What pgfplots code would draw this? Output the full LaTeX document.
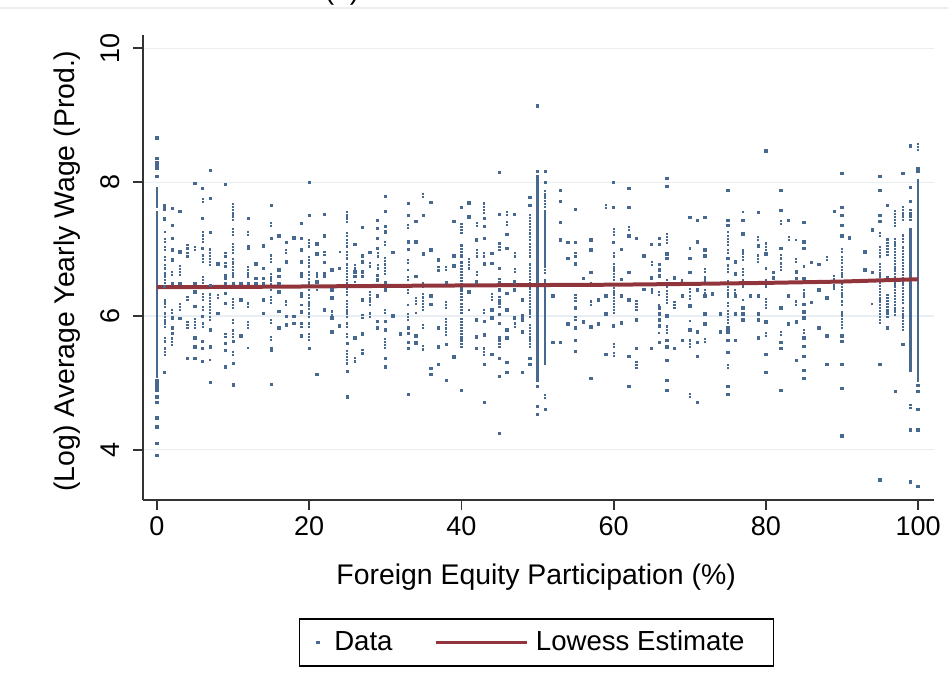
\documentclass[border=0pt]{standalone}
\usepackage{fontspec}
\setmainfont{Liberation Sans}
\usepackage{pgfplots}
\pgfplotsset{compat=1.18}
\definecolor{dotc}{HTML}{48698F}
\definecolor{lowc}{HTML}{90353B}
\definecolor{gridc}{HTML}{E9EEF3}

\begin{document}
\begin{tikzpicture}
\path[use as bounding box] (-71.5pt,-96.5pt) rectangle (402.5pt,250pt);
\draw[color=gridc, line width=0.75pt] (-71.5pt,246pt) -- (402.5pt,246pt);
\node[anchor=base, font=\fontsize{14}{16}\selectfont] at (99.5pt,250.5pt) {(a)};
\begin{axis}[
  scale only axis, width=395.5pt, height=232.5pt,
  xmin=-1.84, xmax=102.1, ymin=3.25, ymax=10.2,
  axis lines=left,
  axis line style={-, line width=0.9pt, color=black!80},
  xtick={0,20,...,100}, ytick={4,6,8,10},
  tick align=outside, major tick length=5pt,
  tick style={line width=0.9pt, color=black!80},
  ymajorgrids, grid style={color=gridc, line width=0.6pt},
  /pgf/number format/assume math mode=true,
  ticklabel style={font=\fontsize{13.5}{16}\selectfont},
  yticklabel style={rotate=90, anchor=south},
  yticklabel shift=3pt,
  xlabel={Foreign Equity Participation (\%)},
  ylabel={(Log) Average Yearly Wage (Prod.)},
  label style={font=\fontsize{14.2}{17}\selectfont},
  xlabel style={at={(axis description cs:0.497,-0.1656)}, anchor=center},
  ylabel style={at={(axis description cs:-0.0961,0.4925)}, anchor=center},
  legend columns=2, legend cell align=left,
  legend style={at={(axis description cs:0.4975,-0.2538)}, anchor=north,
    draw=black, line width=0.8pt, font=\fontsize{13.8}{17}\selectfont,
    inner xsep=8.5pt, inner ysep=4pt,
    /tikz/every even column/.append style={column sep=19pt}},
  runs/.style={draw=none, no markers, forget plot,
    error bars/.cd, y dir=plus, y explicit, error mark=none},
]
% long, solid columns of points (x, low, high)
\addplot[runs, error bar style={draw=dotc, line width=1.3pt, line cap=rect}]
  table[x=x, y=lo, y error expr=\thisrow{hi}-\thisrow{lo}, row sep=\\] {
x lo hi\\
0 7.63 7.91\\ 0 5.09 7.55\\ 50 5.04 7.88\\ 51 6.74 7.56\\ 51 5.29 6.54\\
99 5.19 7.29\\ 100 5.04 8.03\\
};
% shorter runs of points, drawn dotted
\addplot[runs, error bar style={draw=dotc, line width=1.1pt, line cap=rect,
    dash pattern=on 0.01pt off 1.55pt}]
  table[x=x, y=lo, y error expr=\thisrow{hi}-\thisrow{lo}, row sep=\\] {
x lo hi\\
1 7.26 7.30\\ 1 7.11 7.19\\ 1 6.99 7.05\\ 1 6.84 6.91\\ 1 6.71 6.79\\ 1 6.59 6.66\\ 1 6.49 6.54\\ 1 6.14 6.24\\ 1 5.99 6.08\\ 1 5.84 5.97\\ 1 5.62 5.67\\ 1 5.42 5.54\\
2 6.61 6.66\\ 2 6.04 6.09\\ 2 5.57 5.67\\
3 6.61 6.79\\ 3 6.09 6.19\\
4 7.01 7.09\\ 4 6.89 6.94\\ 4 6.24 6.29\\ 4 5.82 5.94\\
5 6.99 7.04\\ 5 5.82 5.97\\
6 7.70 7.77\\ 6 7.11 7.29\\ 6 6.81 6.94\\ 6 6.49 6.61\\ 6 6.24 6.34\\ 6 6.09 6.17\\ 6 5.84 5.92\\
7 6.76 7.01\\ 7 6.04 6.34\\ 7 5.94 5.99\\ 7 5.34 5.37\\
8 6.27 6.34\\
9 6.89 6.94\\ 9 6.74 6.81\\ 9 6.56 6.64\\ 9 5.69 5.77\\ 9 5.59 5.62\\
10 7.44 7.71\\ 10 7.21 7.31\\ 10 6.94 7.11\\ 10 6.81 6.89\\ 10 6.59 6.79\\ 10 6.12 6.27\\ 10 5.89 5.94\\ 10 5.69 5.79\\ 10 5.42 5.49\\
12 7.21 7.29\\ 12 6.59 6.74\\ 12 6.14 6.22\\ 12 5.82 5.92\\ 12 5.52 5.54\\
15 7.34 7.41\\ 15 6.81 6.91\\ 15 6.39 6.66\\ 15 6.19 6.29\\ 15 5.89 5.94\\ 15 5.64 5.69\\
17 6.94 6.99\\ 17 6.17 6.24\\
19 6.59 6.64\\ 19 6.29 6.36\\ 19 6.17 6.21\\ 19 5.84 5.89\\
20 7.04 7.14\\ 20 6.84 6.91\\ 20 6.74 6.79\\ 20 6.61 6.69\\ 20 6.51 6.58\\ 20 6.39 6.49\\ 20 6.27 6.34\\ 20 6.11 6.21\\ 20 5.99 6.04\\ 20 5.84 5.92\\ 20 5.64 5.77\\
21 6.59 6.66\\ 21 6.39 6.44\\
22 6.91 6.96\\ 22 6.59 6.66\\
23 6.02 6.09\\
24 6.96 6.99\\
25 7.41 7.56\\ 25 7.19 7.26\\ 25 7.04 7.14\\ 25 6.86 6.96\\ 25 6.49 6.81\\ 25 6.31 6.46\\ 25 5.99 6.24\\ 25 5.84 5.92\\ 25 5.69 5.77\\ 25 5.29 5.52\\
26 6.71 6.79\\ 26 6.46 6.51\\ 26 5.32 5.39\\
27 5.97 6.04\\ 27 5.44 5.49\\
28 6.74 6.79\\ 28 6.17 6.36\\ 28 5.99 6.07\\
29 6.89 6.94\\ 29 6.71 6.76\\
30 7.06 7.11\\ 30 6.63 6.88\\ 30 6.04 6.12\\ 30 5.52 5.67\\
33 7.31 7.39\\ 33 6.79 6.88\\ 33 6.69 6.73\\ 33 6.54 6.61\\ 33 6.34 6.46\\ 33 6.17 6.21\\ 33 5.94 6.07\\
34 6.18 6.29\\ 34 6.05 6.09\\
35 7.78 7.83\\ 35 6.44 6.49\\ 35 6.09 6.34\\ 35 5.82 5.89\\ 35 5.50 5.58\\
37 6.68 6.74\\
38 6.69 6.78\\ 38 6.12 6.24\\ 38 5.72 5.97\\
40 7.24 7.41\\ 40 6.96 7.09\\ 40 6.24 6.84\\ 40 6.04 6.19\\ 40 5.54 5.99\\
41 6.71 6.86\\ 41 6.09 6.12\\
42 7.34 7.41\\ 42 6.89 7.01\\ 42 6.61 6.69\\
43 7.54 7.69\\ 43 6.89 6.94\\ 43 6.04 6.12\\ 43 5.42 5.52\\
44 6.24 6.35\\
45 6.99 7.09\\ 45 6.51 6.59\\ 45 6.14 6.29\\ 45 5.54 5.69\\
46 7.51 7.56\\ 46 7.36 7.41\\
47 6.89 6.94\\ 47 6.66 6.71\\ 47 5.84 5.89\\
49 7.14 7.54\\ 49 6.89 7.09\\ 49 6.49 6.79\\ 49 5.99 6.41\\ 49 5.54 5.89\\
51 7.63 7.88\\ 51 6.64 6.71\\ 51 4.77 4.82\\
55 6.89 6.96\\ 55 6.22 6.34\\ 55 5.94 6.02\\ 55 5.47 5.50\\
57 6.49 6.51\\ 57 6.17 6.22\\
59 7.61 7.69\\
60 7.21 7.34\\ 60 6.89 6.94\\ 60 6.54 6.81\\ 60 6.04 6.44\\ 60 5.54 5.62\\ 60 5.40 5.48\\
62 7.28 7.33\\
63 6.09 6.24\\ 63 5.22 5.35\\
65 6.76 6.81\\ 65 6.35 6.44\\
66 6.31 6.36\\ 66 6.17 6.21\\ 66 5.75 5.79\\
67 7.09 7.26\\ 67 6.44 6.57\\ 67 6.19 6.39\\ 67 5.75 5.87\\
68 6.12 6.24\\
69 6.53 6.57\\
70 7.01 7.04\\ 70 6.36 6.42\\ 70 6.25 6.30\\ 70 5.93 5.97\\ 70 5.54 5.67\\ 70 4.79 4.86\\
72 6.66 6.75\\ 72 6.53 6.60\\ 72 6.34 6.39\\ 72 5.61 5.67\\
75 7.25 7.29\\ 75 7.06 7.21\\ 75 6.94 7.01\\ 75 6.66 6.78\\ 75 6.29 6.54\\ 75 6.15 6.24\\ 75 5.89 6.12\\ 75 5.22 5.28\\
76 6.34 6.39\\
77 7.56 7.59\\ 77 6.84 6.99\\ 77 6.61 6.73\\ 77 6.44 6.54\\ 77 6.24 6.26\\
79 7.14 7.20\\ 79 6.81 6.94\\
80 6.99 7.11\\ 80 6.71 6.75\\ 80 6.44 6.57\\ 80 6.12 6.30\\ 80 5.70 5.76\\
82 7.37 7.43\\ 82 6.86 6.92\\ 82 6.69 6.79\\ 82 5.72 5.79\\
83 7.14 7.20\\
84 7.14 7.16\\ 84 6.81 6.86\\ 84 6.17 6.24\\
85 6.74 6.77\\ 85 6.29 6.39\\ 85 5.75 5.82\\
88 6.84 6.93\\
89 6.41 6.60\\
90 6.96 7.04\\ 90 6.79 6.91\\ 90 6.59 6.74\\ 90 6.29 6.54\\ 90 6.17 6.24\\ 90 5.82 6.07\\
94 6.18 6.22\\
95 7.19 7.26\\ 95 6.89 7.04\\ 95 6.59 6.79\\ 95 5.89 6.54\\
96 6.91 7.16\\ 96 6.54 6.61\\ 96 5.99 6.34\\
97 7.34 7.61\\ 97 6.54 7.19\\ 97 6.02 6.49\\
98 7.44 7.66\\ 98 7.11 7.21\\ 98 6.79 7.04\\ 98 6.19 6.76\\ 98 5.79 6.12\\
99 7.44 7.59\\ 99 4.62 4.70\\
100 8.48 8.58\\
};
% single points
\addplot[only marks, mark=square*, mark size=0.6pt, color=dotc,
  mark options={draw=none, fill=dotc},
  legend image code/.code={\path[draw=none, fill=none] (-0.6pt,0pt) rectangle (6pt,0pt);
    \fill[dotc] (-0.5pt,-0.5pt) rectangle (0.5pt,0.5pt);}]
  coordinates {
(0,8.66)(0,8.36)(0,8.30)(0,8.26)(0,8.21)(0,8.09)(0,5.04)(0,5.00)(0,4.94)(0,4.89)(0,4.79)(0,4.71)(0,4.48)(0,4.34)(0,4.10)(0,3.92)
(1,7.65)(1,7.60)(1,7.45)(1,6.44)(1,5.16)
(2,7.61)(2,7.35)(2,7.16)(2,6.99)(2,6.84)(2,6.49)(2,5.97)(2,5.82)(2,5.74)
(3,7.56)(3,6.96)(3,6.49)(3,5.96)
(4,5.37)
(5,7.98)(5,6.49)(5,6.36)(5,6.14)(5,5.67)(5,5.54)(5,5.37)
(6,7.91)(6,7.46)(6,7.01)(6,5.99)(6,5.62)(6,5.52)(6,5.32)
(7,8.18)(7,7.76)(7,7.25)(7,6.46)(7,5.79)(7,5.54)(7,5.01)
(8,6.78)(8,6.04)
(9,7.97)(9,6.49)(9,6.34)(9,6.19)(9,5.49)(9,5.24)
(10,6.49)(10,5.62)(10,5.29)(10,4.97)
(11,6.49)(11,6.24)(11,5.70)
(12,7.46)(12,7.04)(12,7.01)(12,6.49)
(13,6.78)(13,6.56)(13,6.49)
(14,7.05)(14,6.71)(14,6.56)(14,6.49)(14,6.24)(14,6.04)
(15,7.65)(15,7.16)(15,5.52)(15,5.49)(15,4.98)
(16,7.20)(16,6.69)(16,6.59)(16,6.49)(16,6.36)(16,6.07)(16,5.82)
(17,7.10)(17,6.81)(17,5.99)(17,5.87)
(18,7.17)(18,5.99)(18,5.89)
(19,7.38)(19,7.16)(19,6.99)(19,6.81)(19,6.06)(19,5.70)
(20,8.00)(20,7.50)(20,5.52)
(21,7.08)(21,6.93)(21,6.51)(21,5.13)
(22,7.52)(22,7.20)(22,6.80)(22,6.09)
(23,6.69)(23,6.39)(23,6.27)(23,5.97)(23,5.76)
(24,6.71)(24,5.85)
(25,5.59)(25,5.17)(25,4.79)
(26,7.07)(26,6.66)(26,6.59)(26,5.67)
(27,7.32)(27,6.90)(27,6.81)(27,6.66)(27,6.59)(27,6.24)(27,5.73)
(28,6.95)
(29,7.43)(29,7.31)(29,7.16)(29,7.01)(29,6.61)(29,6.54)(29,6.30)(29,5.92)(29,5.82)
(30,7.79)(30,7.56)(30,7.34)(30,7.26)(30,6.50)(30,6.39)(30,5.92)(30,5.79)(30,5.37)(30,5.24)
(31,6.95)(31,6.00)
(32,5.73)
(33,7.68)(33,7.50)(33,7.11)(33,7.00)(33,5.82)(33,5.74)(33,5.61)(33,5.52)(33,4.83)
(34,7.41)(34,7.11)(34,6.59)(34,5.70)(34,5.60)
(35,7.50)(35,6.93)
(36,7.70)(36,6.99)(36,6.30)(36,6.17)(36,5.22)(36,5.13)
(37,6.84)(37,5.82)(37,5.54)(37,5.28)
(38,6.50)(38,5.58)(38,5.04)
(39,7.41)(39,6.90)(39,6.75)(39,5.39)
(40,7.62)(40,6.90)(40,4.89)
(41,7.69)(41,7.48)(41,6.36)
(42,7.14)(42,6.51)(42,5.94)(42,5.69)(42,5.52)
(43,7.46)(43,7.34)(43,7.16)(43,6.78)(43,5.92)(43,5.72)(43,5.28)(43,4.71)
(44,6.94)(44,6.79)(44,6.09)(44,5.97)(44,5.43)
(45,8.15)(45,7.52)(45,6.71)(45,6.39)(45,6.02)(45,5.89)(45,5.37)(45,5.10)(45,4.25)
(46,7.22)(46,7.01)(46,6.34)(46,6.09)(46,5.79)(46,5.67)(46,5.31)(46,5.16)
(47,7.52)(47,6.51)(47,6.39)(47,5.97)
(48,6.24)(48,6.00)(48,5.94)(48,5.76)(48,5.16)
(49,7.77)(49,7.65)(49,5.37)(49,5.28)
(50,9.14)(50,8.16)(50,8.08)(50,8.03)(50,7.98)(50,7.93)(50,4.95)(50,4.65)(50,4.53)
(51,8.16)(51,8.00)(51,4.60)
(52,6.30)(52,5.61)
(53,7.88)(53,7.71)(53,7.40)(53,7.14)(53,5.61)
(54,7.10)(54,6.86)(54,5.88)
(55,7.59)(55,7.10)(55,6.78)(55,6.12)(55,5.82)(55,5.64)
(56,6.56)(56,5.91)
(57,7.14)(57,6.99)(57,6.65)(57,5.84)(57,5.07)
(58,6.24)(58,5.88)
(59,6.30)(59,6.03)(59,5.43)
(60,8.00)(60,7.62)(60,7.10)(60,5.85)
(61,7.00)(61,6.55)(61,6.30)(61,5.90)
(62,7.91)(62,7.62)(62,7.20)(62,6.65)(62,6.24)(62,5.40)(62,4.95)
(63,7.16)(63,5.94)(63,5.52)
(64,6.90)(64,6.40)
(65,7.07)(65,6.57)(65,5.52)
(66,7.16)(66,7.07)(66,6.77)(66,6.69)(66,6.60)(66,6.12)(66,6.03)(66,5.94)(66,5.85)(66,5.61)
(67,8.06)(67,7.94)(67,6.93)(67,6.86)(67,6.00)(67,5.64)(67,5.54)(67,5.34)(67,5.04)(67,4.89)
(68,6.57)(68,5.52)
(69,6.30)(69,5.64)
(70,7.47)(70,6.86)(70,6.65)(70,6.15)(70,5.79)
(71,7.43)(71,7.11)(71,6.39)(71,5.76)(71,5.61)(71,5.40)(71,4.71)
(72,7.47)(72,6.99)(72,6.90)(72,6.30)(72,6.03)(72,5.88)
(73,6.33)
(74,6.03)(74,5.76)
(75,7.88)(75,7.43)(75,7.35)(75,6.86)(75,5.82)(75,5.76)(75,5.64)(75,5.46)(75,4.95)(75,4.83)
(76,6.81)(76,6.63)(76,6.30)(76,6.03)(76,5.64)
(77,7.43)(77,7.23)(77,6.12)(77,6.03)(77,5.94)
(78,6.30)
(79,7.55)(79,7.05)(79,6.30)(79,6.03)(79,5.94)(79,5.67)
(80,8.47)(80,6.93)(80,5.91)(80,5.43)(80,5.16)
(81,6.65)(81,6.57)
(82,7.88)(82,7.58)(82,7.01)(82,6.12)(82,5.61)(82,5.52)(82,4.89)
(83,7.43)(83,6.30)(83,5.88)
(84,6.66)(84,6.56)(84,5.91)(84,5.34)
(85,7.40)(85,7.11)(85,7.01)(85,6.56)(85,6.17)(85,6.06)(85,5.97)(85,5.67)(85,5.55)(85,5.40)(85,5.19)(85,5.07)
(86,6.80)(86,6.20)
(87,6.77)(87,6.39)(87,5.82)
(88,6.27)(88,5.70)(88,5.28)
(89,7.56)
(90,8.13)(90,7.62)(90,7.50)(90,7.35)(90,7.20)(90,5.70)(90,5.62)(90,5.28)(90,4.92)(90,4.21)
(91,7.17)
(93,6.96)(93,6.69)
(94,7.29)(94,6.65)
(95,8.09)(95,7.88)(95,7.50)(95,7.41)(95,5.28)(95,3.55)
(96,7.65)(96,5.82)
(97,4.87)
(98,8.13)(98,5.58)
(99,8.54)(99,7.92)(99,7.71)(99,4.30)(99,3.52)
(100,8.21)(100,8.16)(100,4.96)(100,4.87)(100,4.60)(100,4.30)(100,3.45)
};
\addlegendentry{Data}
% lowess fit
\addplot[color=lowc, line width=2pt,
  legend image code/.code={\draw[lowc, line width=1.4pt] (0pt,0pt) -- (45.5pt,0pt); \path[draw=none] (48pt,0pt);}]
  coordinates {(0,6.43)(15,6.438)(30,6.45)(45,6.46)(60,6.468)(70,6.48)(80,6.495)(90,6.515)(100,6.55)};
\addlegendentry{Lowess Estimate\hspace*{4pt}}
\end{axis}
\end{tikzpicture}
\end{document}
